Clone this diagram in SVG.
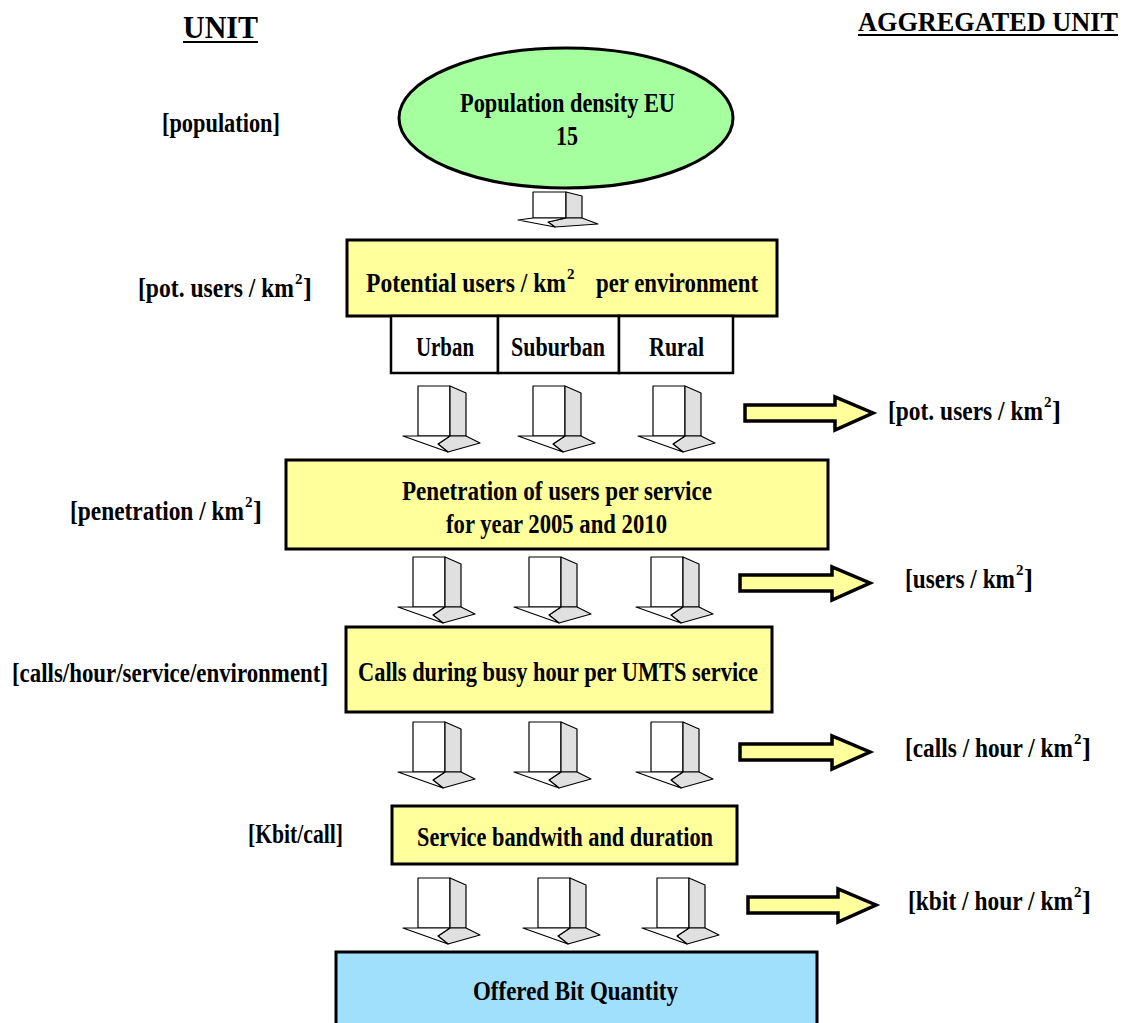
<svg xmlns="http://www.w3.org/2000/svg" width="1125" height="1023" viewBox="0 0 1125 1023" font-family="'Liberation Serif', 'DejaVu Serif', serif">
<style>
text{font-family:"Liberation Serif","DejaVu Serif",serif;font-weight:bold;font-size:27px;fill:#000}
.sup{font-size:15px}
.box{fill:#ffff9c;stroke:#000;stroke-width:3}
.sub{fill:#fff;stroke:#000;stroke-width:2.5}
.ya{fill:#ffff9c;stroke:#000;stroke-width:3.5;stroke-linejoin:miter}
.a3 polygon,.a3 rect{stroke:#000;stroke-width:1.2;stroke-linejoin:round}
</style>
<defs>
<g id="arr3d" class="a3">
<rect x="0" y="0" width="32" height="50" fill="#fff"/>
<polygon points="32,0 48,7 48,50 32,50" fill="#e0e0e0"/>
<polygon points="32,50 48,50 62,57 30,66 20,58" fill="#e0e0e0"/>
<polygon points="-15,50 0,50 32,50 20,58 30,66" fill="#fff"/>
</g>
</defs>
<rect width="1125" height="1023" fill="#fff"/>

<g id="headers">
<text x="183" y="38" textLength="75" lengthAdjust="spacingAndGlyphs" style="font-size:32px">UNIT</text>
<line x1="183" y1="42" x2="258" y2="42" stroke="#000" stroke-width="2"/>
<text x="858" y="31" style="font-size:27px" textLength="260" lengthAdjust="spacingAndGlyphs">AGGREGATED UNIT</text>
<line x1="858" y1="35" x2="1118" y2="35" stroke="#000" stroke-width="2"/>
</g>

<g id="left-units">
<text x="162" y="132" textLength="118" lengthAdjust="spacingAndGlyphs">[population]</text>
<text x="138" y="297"><tspan textLength="156" lengthAdjust="spacingAndGlyphs">[pot. users / km</tspan></text>
<text class="sup" x="295" y="284">2</text>
<text x="303" y="297">]</text>
<text x="70" y="520"><tspan textLength="174" lengthAdjust="spacingAndGlyphs">[penetration / km</tspan></text>
<text class="sup" x="245" y="507">2</text>
<text x="253" y="520">]</text>
<text x="12" y="682" textLength="316" lengthAdjust="spacingAndGlyphs">[calls/hour/service/environment]</text>
<text x="248" y="843" textLength="95" lengthAdjust="spacingAndGlyphs">[Kbit/call]</text>
</g>

<g id="node-population">
<ellipse cx="566" cy="118" rx="167" ry="70" fill="#a6ff9f" stroke="#000" stroke-width="3"/>
<text x="460" y="112" textLength="215" lengthAdjust="spacingAndGlyphs">Population density EU</text>
<text x="556" y="145" textLength="22" lengthAdjust="spacingAndGlyphs">15</text>
</g>

<g id="node-potential">
<rect class="box" x="347" y="240" width="430" height="76"/>
<text x="366" y="292" textLength="200" lengthAdjust="spacingAndGlyphs">Potential users / km</text>
<text class="sup" x="567" y="279">2</text>
<text x="596" y="292" textLength="162" lengthAdjust="spacingAndGlyphs">per environment</text>
</g>

<g id="node-environments">
<rect class="sub" x="391" y="316" width="107" height="57"/>
<rect class="sub" x="498" y="316" width="121" height="57"/>
<rect class="sub" x="619" y="316" width="114" height="57"/>
<text x="416" y="356" textLength="58" lengthAdjust="spacingAndGlyphs">Urban</text>
<text x="511" y="356" textLength="94" lengthAdjust="spacingAndGlyphs">Suburban</text>
<text x="649" y="356" textLength="55" lengthAdjust="spacingAndGlyphs">Rural</text>
</g>

<g id="node-penetration">
<rect class="box" x="286" y="460" width="542" height="89"/>
<text x="402" y="500" textLength="310" lengthAdjust="spacingAndGlyphs">Penetration of users per service</text>
<text x="446" y="533" textLength="221" lengthAdjust="spacingAndGlyphs">for year 2005 and 2010</text>
</g>

<g id="node-calls">
<rect class="box" x="346" y="627" width="426" height="85"/>
<text x="358" y="681" textLength="400" lengthAdjust="spacingAndGlyphs">Calls during busy hour per UMTS service</text>
</g>

<g id="node-bandwidth">
<rect class="box" x="392" y="806" width="345" height="58"/>
<text x="417" y="846" textLength="296" lengthAdjust="spacingAndGlyphs">Service bandwith and duration</text>
</g>

<g id="node-offered">
<rect x="336" y="952" width="481" height="75" fill="#a0e0fc" stroke="#000" stroke-width="3"/>
<text x="473" y="1000" textLength="205" lengthAdjust="spacingAndGlyphs">Offered Bit Quantity</text>
</g>

<g id="right-units">
<text x="888" y="420"><tspan textLength="155" lengthAdjust="spacingAndGlyphs">[pot. users / km</tspan></text>
<text class="sup" x="1044" y="407">2</text>
<text x="1052" y="420">]</text>
<text x="905" y="588"><tspan textLength="110" lengthAdjust="spacingAndGlyphs">[users / km</tspan></text>
<text class="sup" x="1016" y="575">2</text>
<text x="1024" y="588">]</text>
<text x="905" y="757"><tspan textLength="168" lengthAdjust="spacingAndGlyphs">[calls / hour / km</tspan></text>
<text class="sup" x="1074" y="744">2</text>
<text x="1082" y="757">]</text>
<text x="908" y="910"><tspan textLength="165" lengthAdjust="spacingAndGlyphs">[kbit / hour / km</tspan></text>
<text class="sup" x="1074" y="897">2</text>
<text x="1082" y="910">]</text>
</g>

<g id="connectors">
<g class="a3">
<rect x="533" y="192" width="33" height="26" fill="#fff"/>
<polygon points="566,192 582,196 582,218 566,218" fill="#e0e0e0"/>
<polygon points="566,218 582,218 598,224 555,227 548,222" fill="#e0e0e0"/>
<polygon points="518,220 533,218 566,218 548,222 555,227" fill="#fff"/>
</g>
<use href="#arr3d" x="418" y="386"/>
<use href="#arr3d" x="533" y="386"/>
<use href="#arr3d" x="653" y="386"/>
<use href="#arr3d" x="413" y="557"/>
<use href="#arr3d" x="529" y="557"/>
<use href="#arr3d" x="651" y="557"/>
<use href="#arr3d" x="413" y="722"/>
<use href="#arr3d" x="529" y="722"/>
<use href="#arr3d" x="651" y="722"/>
<use href="#arr3d" x="418" y="878"/>
<use href="#arr3d" x="538" y="878"/>
<use href="#arr3d" x="657" y="878"/>
<path class="ya" d="M745,405 H835 V397 L873,413 L835,430 V421 H745 Z"/>
<path class="ya" d="M740,575 H832 V567 L870,583 L832,600 V591 H740 Z"/>
<path class="ya" d="M740,744 H832 V736 L870,752 L832,769 V760 H740 Z"/>
<path class="ya" d="M748,897 H838 V889 L876,905 L838,922 V913 H748 Z"/>
</g>
</svg>
